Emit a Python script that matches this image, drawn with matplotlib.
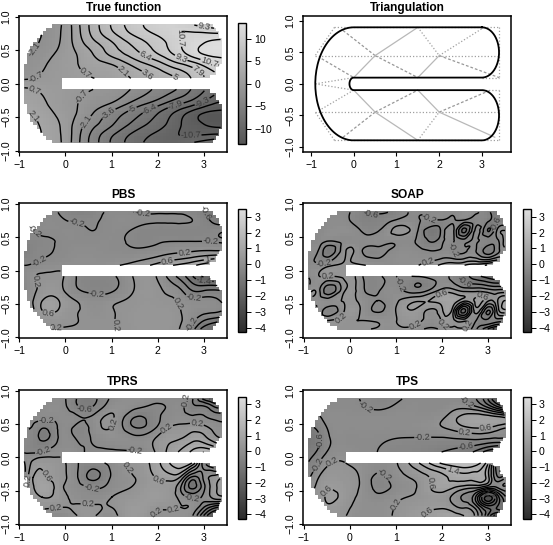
"""Horseshoe smoothing comparison: true function, triangulation and four fits."""

import matplotlib

matplotlib.use("Agg")
import matplotlib.pyplot as plt
import matplotlib.tri as mtri
import numpy as np
from matplotlib.colors import LinearSegmentedColormap, Normalize

plt.rcParams["font.family"] = ["Liberation Sans", "DejaVu Sans"]

W, H = 553, 545

# surface values at these nodes
x_nodes = [-0.9, -0.7, -0.5, -0.1, 0.2, 0.6, 1.0, 1.5, 2.0, 2.25, 2.5, 2.75, 3.0, 3.2, 3.4]
y_nodes = [0.9, 0.75, 0.6, 0.45, 0.3, 0.08, -0.08, -0.3, -0.45, -0.6, -0.75, -0.9]

true_vals = [
    [-3.5, -3.0, -2.2, -0.8, 1.3, 4.2, 6.6, 8.7, 10.2, 10.5, 9.8, 9.0, 8.3, 7.8, 7.5],
    [-3.2, -2.8, -2.1, -0.7, 1.2, 4.0, 6.1, 8.2, 9.6, 10.3, 10.8, 10.9, 10.9, 10.8, 10.8],
    [-3.0, -2.5, -1.9, -0.6, 1.0, 3.1, 4.8, 6.9, 8.6, 9.6, 10.7, 11.5, 12.2, 12.6, 12.7],
    [-2.6, -2.0, -1.5, -0.3, 0.6, 2.2, 4.0, 5.9, 7.9, 9.0, 10.2, 11.4, 12.3, 12.6, 12.6],
    [-2.0, -1.5, -1.0, 0.0, 0.55, 1.5, 2.3, 4.2, 5.9, 7.0, 7.9, 8.8, 9.9, 10.7, 11.2],
    [-0.9, -0.7, -0.4, 0.0, 0.3, 0.7, 1.2, 2.4, 3.9, 4.5, 5.3, 6.6, 7.7, 8.6, 9.2],
    [0.9, 0.7, 0.4, 0.0, -0.3, -0.7, -1.2, -2.4, -3.9, -4.5, -5.3, -6.6, -7.7, -8.6, -9.2],
    [2.0, 1.5, 1.0, 0.0, -0.55, -1.5, -2.3, -4.2, -5.9, -7.0, -7.9, -8.8, -9.9, -10.7, -11.2],
    [2.6, 2.0, 1.5, 0.3, -0.6, -2.2, -4.0, -5.9, -7.9, -9.0, -10.2, -11.4, -12.3, -12.6, -12.6],
    [3.0, 2.5, 1.9, 0.6, -1.0, -3.1, -4.8, -6.9, -8.6, -9.6, -10.7, -11.5, -12.2, -12.6, -12.7],
    [3.2, 2.8, 2.1, 0.7, -1.2, -4.0, -6.1, -8.2, -9.6, -10.3, -10.8, -10.9, -10.9, -10.8, -10.8],
    [3.5, 3.0, 2.2, 0.8, -1.3, -4.2, -6.6, -8.7, -10.2, -10.5, -9.8, -9.0, -8.3, -7.8, -7.5],
]

pbs_vals = [
    [-0.3, -0.3, -0.2, -0.25, -0.5, -0.4, -0.15, -0.25, -0.3, -0.3, -0.3, -0.4, -0.6, -0.9, -1.1],
    [-0.3, -0.3, -0.15, -0.15, -0.25, -0.25, -0.1, -0.1, -0.15, -0.15, -0.15, -0.2, -0.4, -0.7, -0.9],
    [-0.3, -0.22, -0.12, -0.1, -0.1, -0.2, -0.1, -0.25, -0.35, -0.35, -0.35, -0.35, -0.33, -0.3, -0.25],
    [-0.35, -0.3, -0.27, -0.15, -0.1, -0.12, -0.1, -0.28, -0.25, -0.22, -0.22, -0.22, -0.22, -0.22, -0.22],
    [-0.7, -0.35, -0.25, -0.15, -0.05, -0.05, -0.1, -0.15, -0.05, 0.05, 0.1, 0.15, 0.2, 0.2, 0.2],
    [-0.2, -0.15, -0.05, 0.05, 0.1, 0.1, 0.15, 0.35, 0.75, 0.95, 1.1, 1.3, 1.6, 1.8, 2.0],
    [-0.15, 0.15, 0.25, 0.25, -0.15, -0.3, -0.25, 0.25, 0.15, -0.35, -0.8, -1.4, -1.9, -2.0, -2.2],
    [-0.25, 0.1, 0.35, 0.3, -0.1, -0.3, -0.25, 0.22, 0.28, 0.1, -0.15, -0.6, -0.6, -0.55, -0.6],
    [-0.1, 0.2, 0.6, 0.55, 0.22, 0.0, 0.1, 0.28, 0.3, 0.26, 0.12, -0.05, -0.05, -0.1, -0.25],
    [0.0, 0.15, 0.6, 0.5, 0.25, 0.1, 0.18, 0.32, 0.35, 0.32, 0.2, 0.05, -0.05, -0.1, -0.2],
    [0.1, 0.15, 0.25, 0.3, 0.22, 0.15, 0.18, 0.33, 0.38, 0.35, 0.22, -0.1, -0.6, -0.8, -1.0],
    [0.1, 0.1, 0.15, 0.15, 0.15, 0.15, 0.18, 0.3, 0.35, 0.3, 0.15, -0.5, -1.3, -1.6, -1.8],
]

soap_vals = [
    [-0.15, -0.15, -0.15, -0.15, -0.35, -0.7, -0.5, -0.1, -0.15, -0.05, 0.0, -0.1, -0.5, -1.1, -1.3],
    [-0.15, -0.15, -0.1, -0.1, -0.4, -0.45, -0.15, -0.18, -0.25, -0.25, -0.3, -0.3, -0.5, -0.6, -0.7],
    [-0.1, -0.15, -0.05, 0.05, -0.15, -0.25, 0.3, -0.25, -0.5, -0.1, -1.5, -0.1, -1.0, -0.2, 0.2],
    [-0.15, -0.15, -0.15, -0.1, -0.1, -0.05, -0.1, -0.3, -0.35, -0.15, -0.4, -0.15, -0.4, -0.3, 0.5],
    [-0.15, -0.15, -0.8, 0.15, -0.05, -0.3, -0.1, -0.1, -0.15, -0.2, -0.25, -0.2, -0.8, -0.4, 0.1],
    [-0.15, -0.1, 0.05, 0.25, 0.25, 0.1, 0.0, 0.2, 0.7, 0.9, 1.0, 1.2, 1.5, 1.6, 1.6],
    [-0.15, 0.15, 0.25, 0.3, 0.0, -0.25, -0.2, -0.15, 0.0, -0.4, -0.8, -1.3, -1.6, -1.8, -2.0],
    [-0.05, 0.05, -0.8, 0.2, 0.05, -0.25, -0.05, -0.4, 0.35, 0.35, 0.1, 0.1, 0.0, -0.1, -0.1],
    [0.05, 0.1, 0.0, 0.25, 0.15, -0.2, 0.1, 0.55, 0.8, 0.85, 0.3, 0.7, 0.3, 0.5, 1.0],
    [0.1, 0.15, -0.4, 0.25, 0.25, -0.25, 0.2, 0.45, 0.5, 0.3, -1.5, 0.4, -1.0, 0.2, 0.9],
    [0.15, 0.15, 0.2, 0.25, 0.2, 0.15, 0.18, 0.3, 0.25, 0.3, 0.1, -0.2, -0.5, -0.4, -0.5],
    [0.1, 0.1, 0.15, 0.2, 0.22, 0.1, 0.1, -0.2, -0.2, -0.05, -0.2, -0.6, -1.8, -2.4, -2.4],
]

tprs_vals = [
    [-0.15, -0.15, -0.1, -0.1, -0.5, -0.7, -0.15, 0.05, -0.05, -0.1, -0.15, -0.5, -1.8, -2.2, -2.4],
    [-0.15, -0.1, -0.05, -0.05, -0.45, -0.55, 0.05, -0.1, -0.25, -0.15, -0.1, -0.5, -0.5, -0.9, -1.1],
    [-0.15, -0.15, -0.1, -0.05, -0.1, -0.1, 0.25, -0.6, -0.25, -0.1, 0.0, -0.1, -0.15, -0.3, -0.4],
    [-0.15, -0.25, -0.55, -0.1, -0.25, -0.05, 0.2, -0.6, -0.15, 0.2, 0.3, 0.4, 0.3, 0.1, 0.0],
    [-0.25, -0.35, -0.7, -0.1, -0.2, -0.15, 0.1, -0.1, 0.25, 0.5, 0.55, 0.8, 0.7, 0.35, 0.15],
    [-0.2, -0.25, -0.15, 0.05, 0.0, -0.3, -0.3, -0.25, 0.3, 0.7, 1.1, 1.5, 1.8, 1.6, 1.2],
    [-0.25, 0.3, 0.45, 0.3, -0.1, -0.25, -0.05, 0.35, 0.9, 1.4, 1.7, 1.4, -0.5, -1.5, -1.8],
    [-0.3, 0.6, 0.7, 0.3, -0.05, -0.7, -0.15, 0.2, 0.65, 0.8, 0.5, -0.7, -0.1, 0.3, 0.6],
    [-0.1, 0.55, 0.9, 0.3, 0.0, -0.25, -0.05, 0.25, 0.5, 0.4, -0.2, -1.1, -0.3, 0.4, 0.8],
    [0.0, 0.3, 0.6, 0.35, 0.1, -0.05, 0.2, 0.4, 0.55, 0.4, 0.05, -0.25, -0.1, 0.3, 0.5],
    [0.1, 0.2, 0.25, 0.2, 0.25, 0.3, 0.2, 0.55, 0.3, 0.25, 0.2, 0.1, -0.6, -1.2, -1.5],
    [0.1, 0.15, 0.05, -0.25, 0.1, 0.2, 0.05, 0.55, 0.1, 0.2, 0.15, -0.2, -1.6, -2.4, -2.5],
]

tps_vals = [
    [-0.1, -0.1, -0.1, -0.1, -0.2, -0.3, -0.28, -0.1, -0.1, -0.1, -0.25, -0.6, -1.4, -2.4, -3.0],
    [-0.2, -0.1, -0.1, -0.1, -0.15, -0.25, -0.15, -0.1, -0.1, 0.05, 0.1, -0.1, -0.6, -1.2, -1.7],
    [-0.3, -0.25, -0.1, -0.05, -0.05, -0.05, -0.05, -0.05, 0.12, 0.45, 0.75, 0.85, 0.8, 0.7, 0.55],
    [-0.7, -0.5, -0.2, -0.05, -0.05, -0.05, -0.05, 0.0, 0.18, 0.35, 0.55, 0.65, 0.62, 0.45, 0.25],
    [-0.95, -0.7, -0.3, -0.1, -0.1, -0.12, -0.18, -0.2, -0.2, -0.15, -0.1, -0.05, -0.1, -0.15, -0.15],
    [-0.75, -0.55, -0.2, 0.0, -0.1, -0.2, -0.35, -0.4, -0.6, -0.7, -0.85, -1.1, -1.6, -1.9, -2.1],
    [-0.6, -0.25, 0.1, 0.2, 0.1, -0.05, 0.15, 1.0, 1.9, 2.1, 2.2, 2.0, 1.2, -1.0, -1.5],
    [-0.3, 0.15, 0.4, 0.35, 0.2, -0.28, 0.0, 0.35, 0.9, 1.1, 1.2, 1.2, 0.8, -0.5, -0.2],
    [-0.05, 0.3, 0.55, 0.4, 0.2, -0.3, -0.1, 0.25, 0.85, 0.65, 0.4, 0.3, -0.2, -0.2, 0.1],
    [0.1, 0.3, 0.65, 0.4, 0.15, -0.1, 0.1, 0.28, 0.4, 0.1, -0.3, -1.1, -2.8, -1.8, -0.6],
    [0.1, 0.3, 0.5, 0.3, 0.1, 0.05, 0.22, 0.45, 0.55, 0.35, 0.15, -0.4, -1.5, -1.4, -0.9],
    [0.1, 0.2, 0.3, 0.2, 0.05, 0.05, 0.25, 0.55, 0.85, 0.9, 0.6, 0.0, -1.6, -3.0, -3.3],
]

true_levels = [(k + 0.5) * 1.4316 for k in range(-10, 10)]
fit_levels = [round(-4.2 + 0.4 * k, 1) for k in range(20)]
true_ticks = [-10, -5, 0, 5, 10]
fit_ticks = [-4, -3, -2, -1, 0, 1, 2, 3]

true_labels = [(3.0, 0.82), (2.57, 0.7), (3.14, 0.36), (-0.62, 0.48), (-0.66, 0.13), (0.48, 0.19),
               (1.2, 0.14), (1.77, 0.13), (2.38, 0.1), (1.71, 0.39), (2.49, 0.36), (2.88, 0.19),
               (-0.7, -0.14), (-0.62, -0.44), (0.43, -0.23), (0.43, -0.57), (0.93, -0.44),
               (1.44, -0.37), (1.82, -0.37), (2.38, -0.31), (2.94, -0.24), (2.71, -0.75)]
pbs_labels = [(-0.52, 0.66), (0.25, 0.73), (1.66, 0.83), (3.0, 0.86), (3.14, 0.41), (2.57, 0.3),
              (2.2, 0.18), (3.07, 0.17), (-0.55, 0.12), (-0.61, -0.15), (-0.37, -0.61), (-0.19, -0.8),
              (0.68, -0.36), (0.84, -0.84), (2.31, -0.54), (2.78, -0.38), (3.0, -0.16), (2.7, -0.79)]
soap_labels = [(0.43, 0.82), (1.73, 0.78), (3.11, 0.71), (2.2, 0.3), (1.7, 0.13), (-0.55, 0.09),
               (-0.48, -0.1), (1.15, -0.2), (2.02, -0.38), (2.89, -0.37), (-0.12, -0.77), (1.99, -0.84),
               (1.48, -0.9), (2.57, -0.82), (2.49, -0.17)]
tprs_labels = [(0.43, 0.8), (-0.41, 0.6), (1.04, 0.5), (2.53, 0.86), (2.86, 0.55), (2.24, 0.39),
               (-0.51, 0.15), (1.51, 0.11), (-0.41, -0.28), (-0.8, -0.37), (-0.22, -0.69), (0.57, -0.43),
               (1.26, -0.19), (0.48, -0.7), (2.0, -0.38), (1.73, -0.64), (2.35, -0.8), (2.75, -0.6)]
tps_labels = [(0.37, 0.77), (2.53, 0.82), (2.95, 0.49), (2.51, 0.4), (1.59, 0.29), (-0.79, 0.26),
              (-0.79, -0.09), (-0.37, -0.08), (-0.48, -0.51), (0.72, -0.27), (1.07, -0.73), (1.66, -0.79),
              (1.88, -0.4), (2.24, -0.21), (2.53, 0.17), (3.04, -0.54)]

# triangulation mesh: vertices and the edges between them, by line style
mesh_dashed = [((-0.25, 0.85), (0.5, 0.45)), ((0.5, 0.45), (1.5, 0.1)), ((-0.75, 0.4), (0.0, 0.1)),
               ((2.0, 0.45), (3.4, 0.1)), ((-0.25, -0.85), (0.5, -0.45)), ((0.5, -0.45), (1.5, -0.1)),
               ((2.0, -0.45), (3.2, -0.1))]
mesh_dotted = [((-0.45, 0.9), (-0.9, 0.45)), ((-0.45, 0.9), (3.4, 0.9)), ((-0.9, 0.45), (3.4, 0.45)),
               ((-0.9, 0.0), (0.0, 0.1)), ((1.5, 0.9), (2.0, 0.45)), ((2.0, 0.45), (3.05, 0.9)),
               ((3.4, 0.9), (3.4, 0.1)), ((3.0, 0.1), (3.4, 0.1)), ((-0.45, -0.9), (-0.9, -0.45)),
               ((-0.45, -0.9), (3.4, -0.9)), ((-0.9, -0.45), (3.4, -0.45)), ((-0.9, 0.0), (0.0, -0.1)),
               ((-0.75, -0.4), (0.0, -0.1)), ((1.5, -0.9), (2.0, -0.45)), ((3.4, -0.9), (3.4, -0.1)),
               ((3.0, -0.1), (3.4, -0.1))]
mesh_solid = [((0.0, 0.1), (0.5, 0.45)), ((0.5, 0.45), (1.5, 0.9)), ((1.5, 0.1), (2.0, 0.45)),
              ((0.0, -0.1), (0.5, -0.45)), ((0.5, -0.45), (1.5, -0.9)), ((1.5, -0.1), (2.0, -0.45)),
              ((2.0, -0.45), (3.3, -0.85))]


def px_axes(left, top, right, bottom):
    return plt.gcf().add_axes([left / W, 1 - bottom / H, (right - left) / W, (bottom - top) / H])


def in_domain(x, y, tol=0.0):
    """Horseshoe mask, with a straight-ended slot like the image has."""
    ay = np.abs(y)
    left = (x < 0) & (np.hypot(x, y) <= 0.9 + tol)
    arm = (x >= 0) & (x <= 3) & (ay <= 0.9 + tol)
    cap = (x > 3) & (np.hypot(x - 3, ay - 0.5) <= 0.4 + tol)
    slot = (x > -0.087) & (ay < 0.08)
    return (left | arm | cap) & ~slot


def surface(vals):
    """Fit the node values with matplotlib's cubic interpolator, leaving out the slot."""
    xx, yy = np.meshgrid(x_nodes, y_nodes)
    nx, ny = len(x_nodes), len(y_nodes)
    tris = []
    for j in range(ny - 1):
        for i in range(nx - 1):
            if y_nodes[j] > 0 > y_nodes[j + 1] and x_nodes[i] >= -0.1:
                continue
            a, b = j * nx + i, j * nx + i + 1
            c, d = a + nx, b + nx
            tris += [[a, b, c], [b, d, c]]
    tri = mtri.Triangulation(xx.ravel(), yy.ravel(), tris)
    return mtri.CubicTriInterpolator(tri, np.asarray(vals, float).ravel(), kind="min_E")


def style_axes(ax, xlim, ylim):
    ax.set_xlim(xlim)
    ax.set_ylim(ylim)
    ax.set_xticks([-1, 0, 1, 2, 3])
    ax.set_yticks([-1, -0.5, 0, 0.5, 1])
    ax.set_yticklabels(["\u22121.0", "\u22120.5", "0.0", "0.5", "1.0"], rotation=90, va="center")
    ax.tick_params(length=3.2, width=0.8, labelsize=7.6, pad=2.5)
    for s in ax.spines.values():
        s.set_linewidth(1.1)


def field_panel(box, cbar_box, title, vals, levels, ticks, vlim, glim, labels, xlim, ylim):
    ax = px_axes(*box)
    interp = surface(vals)
    cmap = LinearSegmentedColormap.from_list("g", [str(glim[0]), str(glim[1])])
    norm = Normalize(*vlim)

    # coarse image cells, like the original evaluation grid
    xc = -0.9 + 0.0341 + 0.06825 * np.arange(63)
    yc = 0.054 * np.arange(-16, 17)
    gx, gy = np.meshgrid(xc, yc)
    zc = np.ma.masked_where(~in_domain(gx, gy, 0.01), interp(gx, gy))
    mesh = ax.pcolormesh(xc, yc, zc, cmap=cmap, norm=norm, shading="nearest")

    fx = np.arange(-0.9, 3.401, 0.01)
    fy = np.arange(-0.875, 0.8751, 0.005)
    hx, hy = np.meshgrid(fx, fy)
    zf = np.ma.masked_where(~in_domain(hx, hy), interp(hx, hy))
    cs = ax.contour(fx, fy, zf, levels=levels, colors="black", linewidths=1.0, linestyles="solid")
    ax.clabel(cs, manual=labels, inline=True, inline_spacing=1, fontsize=6.6, colors="#3a3a3a",
              fmt=lambda v: f"{round(v, 1):g}")

    style_axes(ax, xlim, ylim)
    ax.set_title(title, fontsize=8.6, fontweight="bold", pad=3.5)

    cax = px_axes(*cbar_box)
    cb = plt.gcf().colorbar(mesh, cax=cax, ticks=ticks)
    cb.ax.set_yticklabels([str(t).replace("-", "\u2212") for t in ticks])
    cb.ax.tick_params(length=3.4, width=0.7, labelsize=7.6, pad=2.5)
    cb.outline.set_linewidth(1.0)


def triangulation_panel(box):
    ax = px_axes(*box)
    for edges, ls, col, lw in [(mesh_dotted, (0, (1, 1.6)), "#a0a0a0", 0.9),
                               (mesh_dashed, (0, (2.2, 1.6)), "#989898", 0.9),
                               (mesh_solid, "-", "#b8b8b8", 0.9)]:
        for (x0, y0), (x1, y1) in edges:
            ax.plot([x0, x1], [y0, y1], color=col, lw=lw, ls=ls)

    def arc(cx, cy, r, a0, a1):
        t = np.radians(np.linspace(a0, a1, 60))
        return cx + r * np.cos(t), cy + r * np.sin(t)

    parts = [arc(3, 0.5, 0.4, 90, -90), arc(0, 0, 0.1, 90, 270), arc(3, -0.5, 0.4, 90, -90),
             arc(0, 0, 0.9, 270, 90)]
    bx = np.concatenate([p[0] for p in parts] + [[3.0]])
    by = np.concatenate([p[1] for p in parts] + [[0.9]])
    ax.plot(bx, by, color="black", lw=1.3)
    style_axes(ax, (-1.18, 3.68), (-1.085, 1.085))
    ax.set_title("Triangulation", fontsize=8.6, fontweight="bold", pad=3.5)


plt.figure(figsize=(W / 100, H / 100), dpi=100)

true_lim = (-13.5, 13.5)
fit_lim = (-4.27, 3.47)
fit_gray = (0.17, 0.87)
left_x = (-1.0, 3.5)
right_x = (-1.01, 3.51)
fit_y = (-1.015, 1.01)

field_panel((19.3, 15.7, 227, 152), (238.3, 23.3, 246, 144.3), "True function", true_vals,
            true_levels, true_ticks, true_lim, (0.33, 0.88), true_labels, left_x, (-1.02, 1.015))
triangulation_panel((303.3, 15.7, 511, 152))
field_panel((19.3, 203.3, 227, 338.3), (238.3, 209.3, 246, 332), "PBS", pbs_vals,
            fit_levels, fit_ticks, fit_lim, fit_gray, pbs_labels, left_x, fit_y)
field_panel((303.3, 203.3, 511, 338.3), (523, 209.3, 530.7, 332), "SOAP", soap_vals,
            fit_levels, fit_ticks, fit_lim, fit_gray, soap_labels, right_x, fit_y)
field_panel((19.3, 390, 227, 525), (238.3, 396.7, 246, 518.7), "TPRS", tprs_vals,
            fit_levels, fit_ticks, fit_lim, fit_gray, tprs_labels, left_x, fit_y)
field_panel((303.3, 390, 511, 525), (523, 396.7, 530.7, 518.7), "TPS", tps_vals,
            fit_levels, fit_ticks, fit_lim, fit_gray, tps_labels, right_x, fit_y)

plt.savefig("out.png", dpi=100)
